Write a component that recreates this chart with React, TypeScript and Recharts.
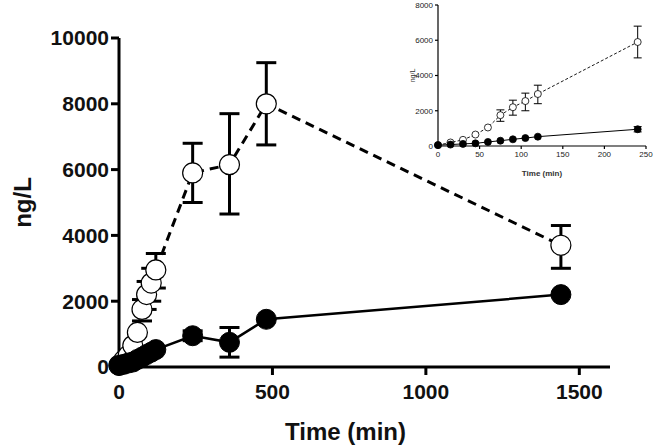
import { LineChart, Line, XAxis, YAxis, ErrorBar } from 'recharts';

// sampling times (min)
const times = [0, 15, 30, 45, 60, 75, 90, 105, 120, 240, 360, 480, 1440];

// open circles, dashed line
const openMean = [50, 200, 350, 650, 1050, 1750, 2200, 2550, 2950, 5900, 6150, 8000, 3700];
const openErr: (number[] | null)[] = [
  null, null, null, null, null,
  [350, 300], [450, 400], [550, 450], [550, 500],
  [900, 900], [1500, 1550], [1250, 1250], [700, 600],
];

// filled circles, solid line
const filledMean = [50, 80, 120, 150, 230, 300, 380, 450, 530, 950, 750, 1450, 2200];
const filledErr: (number[] | null)[] = [
  null, null, null, null, null, null, null, null, null,
  [150, 150], [450, 450], null, null,
];

const mainXTicks = [0, 500, 1000, 1500];
const mainYTicks = [0, 2000, 4000, 6000, 8000, 10000];
const insetXTicks = [0, 50, 100, 150, 200, 250];
const insetYTicks = [0, 2000, 4000, 6000, 8000];
const insetMaxTime = 240;

const data = times.map((t, i) => ({
  t,
  open: openMean[i],
  openErr: openErr[i],
  filled: filledMean[i],
  filledErr: filledErr[i],
}));
const insetData = data.filter(d => d.t <= insetMaxTime);

const font = 'Liberation Sans, Arial, sans-serif';

// rotated y-axis title centred on the plot height
const yTitle = (x: number, size: number, weight: string, fill: string) => (props: any) => {
  const vb = props.viewBox || {};
  const cy = vb.y + vb.height / 2;
  return (
    <text
      x={x}
      y={cy}
      transform={`rotate(-90, ${x}, ${cy})`}
      textAnchor="middle"
      dominantBaseline="central"
      fontSize={size}
      fontWeight={weight}
      fill={fill}
      fontFamily={font}
    >
      ng/L
    </text>
  );
};

export default function App() {
  return (
    <div style={{ position: 'absolute', left: 0, top: 0, width: 657, height: 446, background: '#fff', fontFamily: font }}>
      <LineChart
        width={657}
        height={446}
        data={data}
        margin={{ top: 38, right: 47, bottom: 29, left: 29 }}
      >
        <XAxis
          dataKey="t"
          type="number"
          domain={[0, 1600]}
          ticks={mainXTicks}
          height={50}
          stroke="#000"
          strokeWidth={3}
          tickSize={8}
          tickMargin={9}
          tick={{ fontSize: 21, fontWeight: 'bold', fill: '#111', fontFamily: font }}
          label={{ value: 'Time (min)', position: 'insideBottom', offset: -23, dx: -19, fontSize: 24, fontWeight: 'bold', fill: '#111', fontFamily: font }}
        />
        <YAxis
          type="number"
          domain={[0, 10000]}
          ticks={mainYTicks}
          width={90}
          stroke="#000"
          strokeWidth={3}
          tickSize={8}
          tick={{ fontSize: 21, fontWeight: 'bold', fill: '#111', fontFamily: font }}
          label={{ content: yTitle(22, 24, 'bold', '#111') }}
        />
        <Line
          dataKey="open"
          stroke="#000"
          strokeWidth={3}
          strokeDasharray="9 6"
          dot={{ r: 10, fill: '#fff', stroke: '#000', strokeWidth: 1.2, strokeDasharray: '0' }}
          isAnimationActive={false}
        >
          <ErrorBar dataKey="openErr" width={10} stroke="#000" strokeWidth={3} direction="y" />
        </Line>
        <Line
          dataKey="filled"
          stroke="#000"
          strokeWidth={2.5}
          dot={{ r: 10, fill: '#000', stroke: '#000', strokeWidth: 1 }}
          isAnimationActive={false}
        >
          <ErrorBar dataKey="filledErr" width={10} stroke="#000" strokeWidth={3} direction="y" />
        </Line>
      </LineChart>

      <div style={{ position: 'absolute', left: 400, top: 0 }}>
        <LineChart
          width={257}
          height={180}
          data={insetData}
          margin={{ top: 5, right: 11, bottom: 10, left: 8 }}
        >
          <XAxis
            dataKey="t"
            type="number"
            domain={[0, 250]}
            ticks={insetXTicks}
            height={24}
            stroke="#000"
            strokeWidth={1.2}
            tickSize={3}
            tick={{ fontSize: 8, fill: '#222', fontFamily: font }}
            label={{ value: 'Time (min)', position: 'insideBottom', offset: -6, fontSize: 8, fontWeight: 'bold', fill: '#333', fontFamily: font }}
          />
          <YAxis
            type="number"
            domain={[0, 8000]}
            ticks={insetYTicks}
            width={30}
            stroke="#000"
            strokeWidth={1.2}
            tickSize={3}
            tick={{ fontSize: 8, fill: '#222', fontFamily: font }}
            label={{ content: yTitle(12, 7, 'normal', '#333') }}
          />
          <Line
            dataKey="open"
            stroke="#000"
            strokeWidth={0.9}
            strokeDasharray="3 2"
            dot={{ r: 3.5, fill: '#fff', stroke: '#000', strokeWidth: 0.8, strokeDasharray: '0' }}
            isAnimationActive={false}
          >
            <ErrorBar dataKey="openErr" width={4} stroke="#000" strokeWidth={1} direction="y" />
          </Line>
          <Line
            dataKey="filled"
            stroke="#000"
            strokeWidth={1}
            dot={{ r: 3.5, fill: '#000', stroke: '#000', strokeWidth: 0.8 }}
            isAnimationActive={false}
          >
            <ErrorBar dataKey="filledErr" width={4} stroke="#000" strokeWidth={1} direction="y" />
          </Line>
        </LineChart>
      </div>
    </div>
  );
}
